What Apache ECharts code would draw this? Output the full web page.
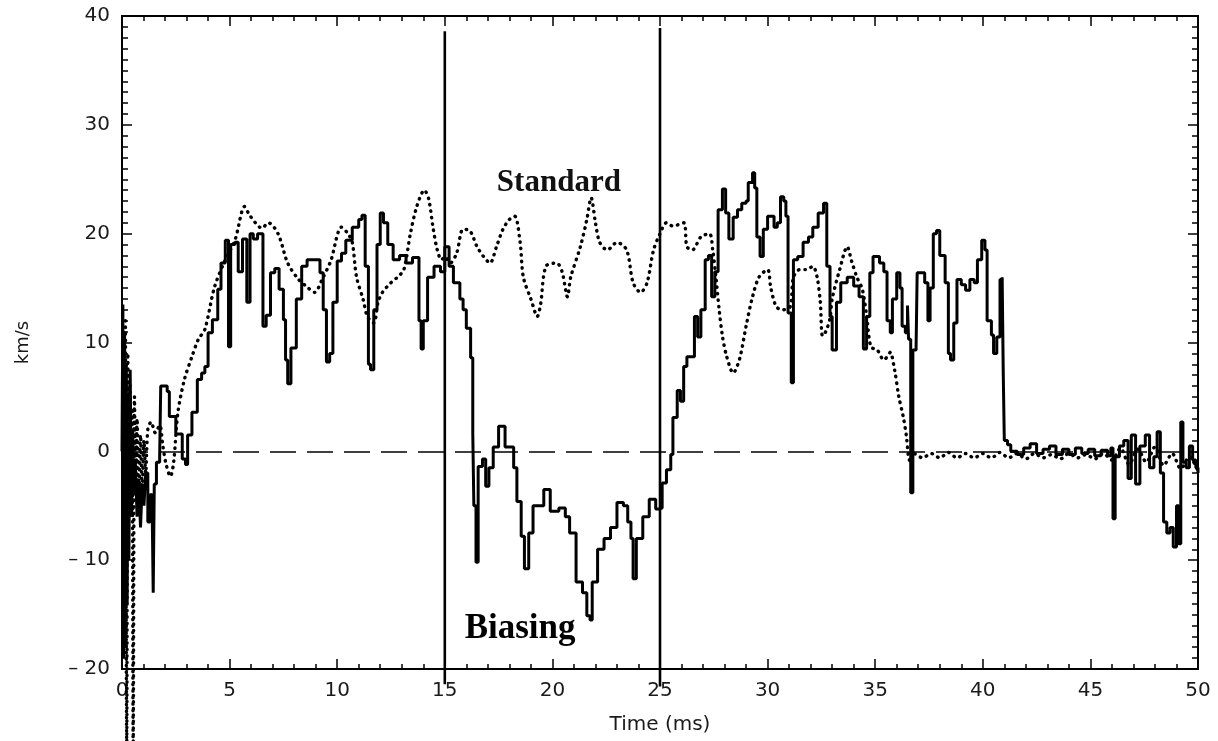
<!DOCTYPE html>
<html>
<head>
<meta charset="utf-8">
<script src="https://cdn.jsdelivr.net/npm/echarts@6/dist/echarts.min.js"></script>
<style>
  html, body { margin: 0; padding: 0; background: #fff; }
  #chart { width: 1218px; height: 741px; }
</style>
</head>
<body>
<div id="chart"></div>
<script>
// Toroidal velocity (km/s) vs time (ms): biased discharge and standard discharge
const xTicks = [0, 5, 10, 15, 20, 25, 30, 35, 40, 45, 50];
const yTicks = [-20, -10, 0, 10, 20, 30, 40];
const biasWindow = [15, 25];          // bias switched on / off (ms)
const biasLineTop = [38.6, 38.9];     // upper end of the bias markers (km/s)
const biasLineBottom = [-21.4, -21.6];

// Biasing discharge (solid trace) [time ms, velocity km/s]
const biasing = [
  [0,0],[0.04,13.5],[0.08,-19],[0.12,11],[0.16,-18],[0.2,8],[0.24,-14],[0.28,5],[0.32,-10],
  [0.38,7.5],[0.44,-6],[0.5,2],[0.56,-4],[0.62,-1],[0.7,-6],[0.78,-2.5],[0.86,-7],[0.94,-3],
  [1.02,-5],[1.1,-2],[1.2,-6.5],[1.3,-4],[1.4,-5],[1.45,-13],[1.5,-3],[1.6,-1],[1.75,-0.5],
  [1.8,6],[2.1,5.5],[2.2,3.2],[2.5,1.6],[2.8,-0.7],[2.95,-1.2],[3.05,1.5],[3.25,3.6],[3.5,6.6],
  [3.7,7.2],[3.85,7.8],[4.0,10.9],[4.2,12.1],[4.45,14.9],[4.6,17.3],[4.8,19.4],[4.95,9.6],
  [5.05,19],[5.25,19.2],[5.4,16.5],[5.6,19.5],[5.8,13.7],[5.95,20],[6.1,19.5],[6.3,20],
  [6.55,11.5],[6.7,12.5],[6.9,16.4],[7.1,16.8],[7.3,14.9],[7.5,12.1],[7.6,8.4],[7.7,6.2],
  [7.85,9.5],[8.1,14],[8.35,17],[8.6,17.6],[8.95,17.6],[9.2,16.4],[9.35,13],[9.5,8.2],
  [9.65,9],[9.8,13.7],[10.0,17.5],[10.2,18.2],[10.4,19.4],[10.7,20.6],[11.0,21.3],[11.15,21.7],
  [11.3,17],[11.45,8],[11.55,7.5],[11.7,13],[11.85,19],[12.0,21.9],[12.15,21],[12.35,19],
  [12.6,17.6],[12.9,18],[13.2,17.3],[13.5,17.8],[13.8,12],[13.9,9.4],[14.0,12],[14.2,16],
  [14.5,17],[14.8,16.5],[15.0,18.8],[15.2,17],[15.4,15.5],[15.7,14],[15.85,13],[16.0,11.3],
  [16.2,8.6],[16.3,1.7],[16.35,-5],[16.45,-10.2],[16.55,-1.4],[16.75,-0.7],[16.9,-3.2],
  [17.05,-1.5],[17.25,0.4],[17.5,2.3],[17.8,0.4],[17.95,0.4],[18.2,-1.5],[18.35,-4.6],
  [18.55,-7.8],[18.7,-10.8],[18.9,-7.5],[19.1,-5],[19.35,-5],[19.6,-3.5],[19.9,-5.5],
  [20.3,-5.2],[20.6,-6],[20.8,-7.5],[21.1,-12],[21.4,-13],[21.6,-15.1],[21.75,-15.5],
  [21.85,-12],[22.1,-9],[22.4,-8],[22.7,-7],[23.0,-4.7],[23.3,-5],[23.5,-6.5],[23.65,-8],
  [23.75,-11.7],[23.9,-8],[24.2,-6],[24.5,-4.4],[24.8,-5.3],[25.0,-5.2],[25.1,-2.9],
  [25.3,-1.7],[25.5,-0.3],[25.6,3.1],[25.8,5.6],[25.95,4.6],[26.1,7.8],[26.25,8.7],
  [26.6,12.4],[26.75,10.5],[26.9,13],[27.1,17.6],[27.25,18],[27.4,14.2],[27.55,16.5],
  [27.7,22.2],[27.9,24.1],[28.05,21.9],[28.2,19.5],[28.4,21.5],[28.6,22.2],[28.8,22.8],
  [29.0,23],[29.1,24.7],[29.3,25.6],[29.4,24.2],[29.5,19.7],[29.65,17.9],[29.8,20.4],
  [30.0,21.6],[30.3,20.6],[30.45,21],[30.6,23.4],[30.75,23],[30.85,21.6],[30.95,12.7],
  [31.1,6.3],[31.2,17.6],[31.4,17.9],[31.65,19.2],[31.9,19.7],[32.1,20.6],[32.35,21.9],
  [32.6,22.8],[32.75,17],[32.9,12.4],[33.0,9.3],[33.2,13.7],[33.4,15.5],[33.7,16],
  [34.0,15.2],[34.25,14.2],[34.45,9.4],[34.6,12.4],[34.75,16.4],[34.9,17.9],[35.2,17.3],
  [35.4,16.5],[35.55,12],[35.7,10.9],[35.8,14],[36.0,16.4],[36.15,15],[36.25,11.5],
  [36.4,10.9],[36.5,13.4],[36.55,10.3],[36.65,-3.8],[36.75,9.3],[36.9,9.6],[36.95,16.4],
  [37.3,15.5],[37.45,12],[37.55,15],[37.7,20],[37.85,20.3],[38.0,18],[38.25,15.5],
  [38.4,9],[38.5,8.4],[38.65,11.8],[38.8,15.8],[39.0,15.3],[39.2,14.8],[39.4,15.8],
  [39.6,15.5],[39.75,17.6],[39.95,19.4],[40.1,18.5],[40.2,12],[40.4,10.7],[40.5,9],
  [40.65,10.5],[40.8,15.8],[40.9,16],[40.95,7.2],[41.0,1],[41.15,0.6],[41.3,0],
  [41.6,-0.3],[41.9,0.3],[42.2,0.7],[42.5,-0.2],[42.8,0.2],[43.1,0.5],[43.4,-0.3],
  [43.7,0.2],[44.0,-0.3],[44.3,0.3],[44.6,-0.2],[44.9,0.2],[45.2,-0.4],[45.5,0.1],
  [45.8,-0.4],[45.95,0.3],[46.05,-6.2],[46.15,-0.5],[46.35,0.5],[46.55,1],[46.75,-2.5],
  [46.9,1.5],[47.1,-3],[47.3,0.5],[47.55,1.5],[47.75,-1.5],[47.95,-0.5],[48.1,1.8],
  [48.25,-2],[48.4,-6.5],[48.55,-7.5],[48.7,-7],[48.85,-8.8],[49.0,-5],[49.1,-8.5],
  [49.2,2.7],[49.3,-1],[49.45,-1.5],[49.6,0.5],[49.75,-0.8],[49.9,-1.5],[50,-2]
];

// Standard discharge (dotted trace) [time ms, velocity km/s]
const standard = [
  [0.16,12],[0.22,-27],[0.27,9],[0.32,-1],[0.37,6],[0.42,-2],[0.47,4],[0.52,-27],[0.58,5],
  [0.64,-3],[0.7,3],[0.78,-4],[0.86,1.5],[0.94,-3.5],[1.02,1],[1.1,-2],[1.2,2],[1.35,2.7],
  [1.55,1.7],[1.75,2.4],[1.9,0.5],[2.05,-1.2],[2.25,-2.3],[2.4,-1],[2.6,3.6],[2.9,6.6],
  [3.25,8.7],[3.55,10.3],[3.85,11.2],[4.3,15.1],[4.8,17.6],[5.25,19.4],[5.7,22.5],[5.9,21.8],
  [6.2,21],[6.5,20.5],[6.8,21],[7.25,20],[7.7,17.3],[8.2,15.8],[8.6,15.1],[8.95,14.6],
  [9.3,15.8],[9.7,17.5],[10.2,20.6],[10.5,20],[10.7,19.2],[10.9,16],[11.2,14],[11.4,12.4],
  [11.7,11.8],[11.9,13.7],[12.1,14.6],[12.5,15.5],[12.8,16],[13.1,16.7],[13.4,20],[13.7,22.5],
  [14.05,24],[14.25,23.2],[14.45,20.6],[14.65,18.5],[14.85,17.6],[15.0,17.9],[15.25,17.3],
  [15.55,18.2],[15.85,20.4],[16.15,20.3],[16.5,18.8],[16.8,17.9],[17.1,17.3],[17.4,18.8],
  [17.7,20.4],[18.0,21.3],[18.25,21.6],[18.5,19.2],[18.65,16],[19.0,14],[19.3,12.4],
  [19.45,13.5],[19.7,17],[20.2,17.3],[20.45,16.5],[20.7,14.2],[20.85,16],[21.3,18.8],
  [21.6,21.3],[21.8,23.3],[22.0,21],[22.2,19.2],[22.55,18.5],[23.0,19.2],[23.45,18.5],
  [23.75,15.5],[24.1,14.6],[24.4,15.5],[24.7,18.5],[25.0,20],[25.3,21],[25.6,20.7],
  [26.1,21],[26.25,18.8],[26.5,18.5],[26.9,19.7],[27.3,20],[27.45,18.5],[27.6,16],
  [27.75,13],[27.9,10.6],[28.1,8.7],[28.4,7.2],[28.7,8.5],[29.0,11.5],[29.3,14.2],
  [29.6,16],[30.0,16.7],[30.15,15],[30.4,13.3],[30.7,13],[31.05,13.3],[31.2,16],[31.5,16.7],
  [31.8,16.7],[32.1,17],[32.3,16],[32.45,13.7],[32.55,10.6],[32.7,11],[32.9,12.2],[33.0,14],
  [33.35,16.7],[33.7,18.8],[33.9,17.5],[34.15,16],[34.4,14.9],[34.6,12.5],[34.8,9.6],
  [35.1,9.3],[35.4,8.4],[35.6,8.8],[35.7,9.1],[35.9,7.5],[36.1,5],[36.3,3.2],[36.45,1.4],
  [36.55,-0.5],[36.65,-1],[36.8,-0.2],[37.2,-0.6],[37.6,-0.2],[38.0,-0.6],[38.4,-0.1],
  [38.8,-0.6],[39.2,-0.2],[39.6,-0.6],[40.0,-0.2],[40.4,-0.6],[40.8,-0.1],[41.2,-0.6],
  [41.6,-0.2],[42.0,-0.7],[42.4,-0.2],[42.8,-0.6],[43.2,-0.3],[43.6,-0.7],[44.0,-0.2],
  [44.4,-0.6],[44.8,-0.3],[45.2,-0.7],[45.6,-0.2],[46.0,-0.8],[46.4,0.3],[46.8,-1.2],
  [47.2,0.2],[47.6,-1],[48.0,0.4],[48.4,-1.3],[48.8,-0.2],[49.2,-1.6],[49.6,-0.5],[50,-1.8]
];

const labelFont = { fontFamily: 'DejaVu Sans', fontSize: 20, color: '#1a1a1a' };
const axisLine = { show: true, onZero: false, lineStyle: { color: '#000', width: 2 } };
const majorTick = { inside: true, length: 10, lineStyle: { color: '#000', width: 1.5 } };

function minusLabel(v) {
  return v < 0 ? '\u2013 ' + Math.abs(v) : String(v);
}

// bias on/off markers, drawn through the axis scales, running a little past the frame
const biasMarkers = biasWindow.map((t, i) => [t, biasLineTop[i], biasLineBottom[i]]);

const chart = echarts.init(document.getElementById('chart'), null, { renderer: 'canvas' });

chart.setOption({
  animation: false,
  backgroundColor: '#fff',
  grid: { left: 122, right: 20, top: 16, bottom: 72 },
  xAxis: [
    {
      type: 'value', min: xTicks[0], max: xTicks[xTicks.length - 1], interval: 5,
      name: 'Time (ms)', nameLocation: 'middle', nameGap: 46,
      nameTextStyle: labelFont,
      axisLine: axisLine,
      axisTick: majorTick,
      minorTick: { show: true, splitNumber: 5, length: 5, lineStyle: { color: '#000', width: 1.5 } },
      splitLine: { show: false },
      axisLabel: Object.assign({ margin: 12 }, labelFont)
    },
    {
      type: 'value', position: 'top', min: xTicks[0], max: xTicks[xTicks.length - 1], interval: 5,
      axisLine: axisLine,
      axisTick: majorTick,
      minorTick: { show: true, splitNumber: 5, length: 5, lineStyle: { color: '#000', width: 1.5 } },
      splitLine: { show: false },
      axisLabel: { show: false }
    }
  ],
  yAxis: [
    {
      type: 'value', min: yTicks[0], max: yTicks[yTicks.length - 1], interval: 10,
      name: 'km/s', nameLocation: 'middle', nameGap: 90, nameRotate: 90,
      nameTextStyle: Object.assign({}, labelFont, { fontSize: 18 }),
      axisLine: axisLine,
      axisTick: majorTick,
      minorTick: { show: true, splitNumber: 10, length: 6, lineStyle: { color: '#000', width: 1.5 } },
      splitLine: { show: false },
      axisLabel: Object.assign({ margin: 12, formatter: minusLabel }, labelFont)
    },
    {
      type: 'value', position: 'right', min: yTicks[0], max: yTicks[yTicks.length - 1], interval: 10,
      axisLine: axisLine,
      axisTick: majorTick,
      minorTick: { show: true, splitNumber: 10, length: 6, lineStyle: { color: '#000', width: 1.5 } },
      splitLine: { show: false },
      axisLabel: { show: false }
    }
  ],
  series: [
    {
      name: 'Bias window',
      type: 'custom',
      data: biasMarkers,
      clip: false,
      silent: true,
      z: 4,
      renderItem: function (params, api) {
        const top = api.coord([api.value(0), api.value(1)]);
        const bottom = api.coord([api.value(0), api.value(2)]);
        return {
          type: 'line',
          shape: { x1: top[0], y1: top[1], x2: bottom[0], y2: bottom[1] },
          style: { stroke: '#000', lineWidth: 2.6 }
        };
      }
    },
    {
      name: 'Standard',
      type: 'line',
      data: standard,
      showSymbol: false,
      clip: false,
      smooth: 0.3,
      lineStyle: { color: '#000', width: 3.4, type: [0.5, 6], cap: 'round' },
      z: 2,
      markPoint: {
        silent: true,
        symbol: 'circle', symbolSize: 0,
        data: [{
          coord: [20.3, 24.7], value: 'Standard',
          label: { show: true, position: 'inside', formatter: 'Standard',
                   fontFamily: 'Liberation Serif', fontWeight: 'bold', fontSize: 31, color: '#111' }
        }]
      }
    },
    {
      name: 'Biasing',
      type: 'line',
      data: biasing,
      showSymbol: false,
      step: 'end',
      lineStyle: { color: '#000', width: 3 },
      z: 3,
      markLine: {
        silent: true,
        symbol: ['none', 'none'],
        label: { show: false },
        lineStyle: { color: '#000', width: 1.6, type: [26, 11] },
        data: [[{ coord: [0, 0] }, { coord: [50, 0] }]]
      },
      markPoint: {
        silent: true,
        symbol: 'circle', symbolSize: 0,
        data: [{
          coord: [18.5, -16.3], value: 'Biasing',
          label: { show: true, position: 'inside', formatter: 'Biasing',
                   fontFamily: 'Liberation Serif', fontWeight: 'bold', fontSize: 35, color: '#000' }
        }]
      }
    }
  ]
});
</script>
</body>
</html>
